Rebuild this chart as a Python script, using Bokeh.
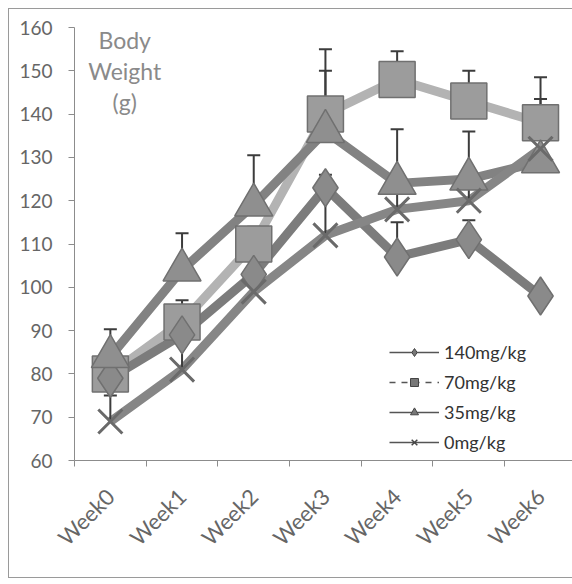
from math import pi
from bokeh.plotting import figure
from bokeh.models import Range1d, FixedTicker, Legend, LegendItem, Label
from bokeh.embed import file_html
from bokeh.resources import INLINE

# ---- data ----
weeks = ["Week0", "Week1", "Week2", "Week3", "Week4", "Week5", "Week6"]
w140 = [79, 89, 103, 123, 107, 111, 98]
w70 = [80, 92, 110, 140, 148, 143, 138]
w35 = [84, 104, 119, 136, 124, 125, 129]
w0 = [69, 81, 99, 112, 118, 120, 132]
e140 = [3, 3, 3, 3, 8, 4.5, 2]
e70 = [3, 5, 4, 10, 6.5, 7, 10.5]
e35 = [6.3, 8.5, 11.5, 19, 12.5, 11, 14.5]
e0 = [6, 10, 5, 9, 5, 5, 5]
series_names = ["140mg/kg", "70mg/kg", "35mg/kg", "0mg/kg"]
y_ticks = [60, 70, 80, 90, 100, 110, 120, 130, 140, 150, 160]

xs = list(range(len(weeks)))

p = figure(width=564, height=570, output_backend="svg", toolbar_location=None,
           x_range=Range1d(-0.5, 6.46), y_range=Range1d(60, 160),
           min_border_left=65, min_border_right=0, min_border_top=18,
           min_border_bottom=119)
p.xgrid.visible = False
p.ygrid.visible = False
p.outline_line_color = None
p.background_fill_color = "white"
p.border_fill_color = "white"
p.styles = {"margin-left": "8px", "margin-top": "8px",
            "border-left": "1px solid #9a9a9a", "border-top": "1px solid #9a9a9a",
            "border-bottom": "1px solid #9a9a9a"}
p.extra_y_ranges = {"hidden": Range1d(1000, 1100)}

# axes
ax = p.xaxis[0]
ax.ticker = FixedTicker(ticks=xs, minor_ticks=[i - 0.5 for i in range(len(weeks) + 1)])
ax.major_label_overrides = {i: w for i, w in enumerate(weeks)}
ax.major_tick_line_color = None
ax.major_tick_out = 0
ax.major_tick_in = 0
ax.minor_tick_out = 6
ax.minor_tick_in = 0
ax.minor_tick_line_color = "#8c8c8c"
ax.axis_line_color = "#8c8c8c"
ax.major_label_orientation = pi / 4
ax.major_label_text_font = "Lato"
ax.major_label_text_font_size = "22px"
ax.major_label_text_color = "#666666"
ax.major_label_standoff = 26

ay = p.yaxis[0]
ay.ticker = FixedTicker(ticks=y_ticks, minor_ticks=[])
ay.axis_line_color = "#8c8c8c"
ay.major_tick_line_color = "#8c8c8c"
ay.major_tick_out = 6
ay.major_tick_in = 0
ay.minor_tick_line_color = None
ay.major_label_text_font = "Lato"
ay.major_label_text_font_size = "19px"
ay.major_label_text_color = "#666666"
ay.major_label_standoff = 16

# series
line_styles = {
    "70mg/kg": dict(vals=w70, errs=e70, color="#b3b3b3", marker="square", size=36,
                    fill="#9c9c9c"),
    "140mg/kg": dict(vals=w140, errs=e140, color="#7c7c7c", marker="diamond", size=38,
                     fill="#8a8a8a"),
    "35mg/kg": dict(vals=w35, errs=e35, color="#828282", marker="triangle", size=38,
                    fill="#8f8f8f"),
    "0mg/kg": dict(vals=w0, errs=e0, color="#868686", marker="x", size=34,
                   fill="#808080"),
}
order = ["70mg/kg", "140mg/kg", "35mg/kg", "0mg/kg"]

for name in order:
    s = line_styles[name]
    p.line(xs, s["vals"], line_color=s["color"], line_width=9, line_join="round")

for name in order:
    s = line_styles[name]
    upper = [v + e for v, e in zip(s["vals"], s["errs"])]
    p.segment(x0=xs, y0=s["vals"], x1=xs, y1=upper, line_color="#3c3c3c", line_width=2)
    p.scatter(xs, upper, marker="dash", size=13, line_color="#3c3c3c", line_width=2)

for name in order:
    s = line_styles[name]
    if s["marker"] == "x":
        p.scatter(xs, s["vals"], marker="x", size=s["size"], line_color="#6a6a6a",
                  line_width=3)
    else:
        p.scatter(xs, s["vals"], marker=s["marker"], size=s["size"],
                  fill_color=s["fill"], line_color="#707070", line_width=1.5)

# legend proxies: same data on a hidden range (out of view), thin glyphs
items = []
for name in series_names:
    s = line_styles[name]
    r1 = p.line(xs, s["vals"], y_range_name="hidden", line_color="#555555",
                line_width=1.5, line_dash="dashed" if name == "70mg/kg" else "solid")
    if s["marker"] == "x":
        r2 = p.scatter(xs, s["vals"], y_range_name="hidden", marker="x", size=12,
                       line_color="#444444", line_width=1.5)
    else:
        r2 = p.scatter(xs, s["vals"], y_range_name="hidden", marker=s["marker"],
                       size=12, fill_color="#777777", line_color="#444444", line_width=1)
    items.append(LegendItem(label=name, renderers=[r1, r2]))

legend = Legend(items=items, location=(315, 7), glyph_width=50, glyph_height=20,
                label_height=20, spacing=8, label_standoff=5, padding=0, margin=0,
                border_line_color=None, background_fill_alpha=0,
                label_text_font="Lato", label_text_font_size="18px",
                label_text_color="#333333")
p.add_layout(legend)

p.add_layout(Label(x=0.2, y=160.4, text="Body\nWeight\n(g)", text_align="center",
                   text_baseline="top", text_font="Lato", text_font_size="23px",
                   text_color="#8a8a8a", text_line_height=1.12))

open("out.html", "w").write(file_html(p, INLINE))
